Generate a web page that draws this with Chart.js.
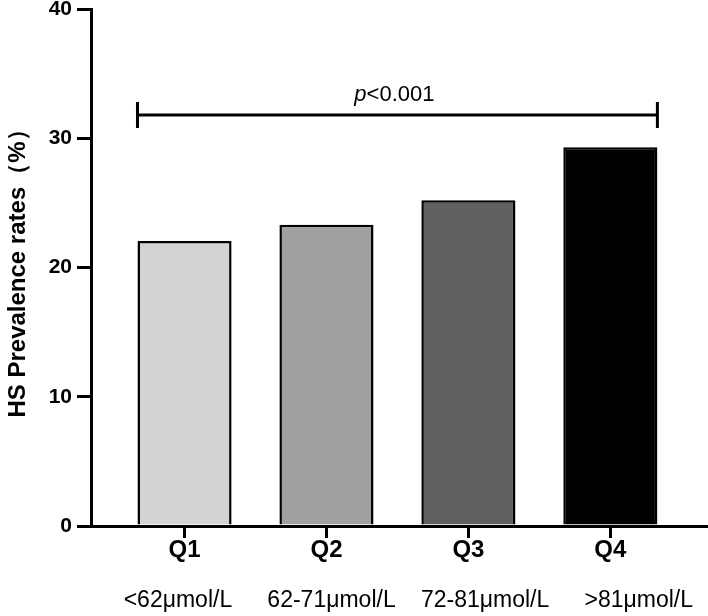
<!DOCTYPE html>
<html>
<head>
<meta charset="utf-8">
<script src="https://cdn.jsdelivr.net/npm/chart.js@4.4.1/dist/chart.umd.min.js"></script>
<style>
  html, body { margin: 0; padding: 0; background: #ffffff; }
  #wrap { width: 708px; height: 616px; position: relative; }
</style>
</head>
<body>
<div id="wrap"><canvas id="c" width="708" height="616"></canvas></div>
<script>
// ---- data ----
const quartiles = ["Q1", "Q2", "Q3", "Q4"];
const ranges = ["<62μmol/L", "62-71μmol/L", "72-81μmol/L", ">81μmol/L"];
const prevalence = [22.05, 23.3, 25.2, 29.3];
const barColors = ["#d3d3d3", "#a0a0a0", "#616161", "#000000"];
const yTicks = [0, 10, 20, 30, 40];
const pText = "<0.001";
const bracketValue = 31.8;

const FONT = "'Liberation Sans', Arial, Helvetica, sans-serif";
const X_MIN = -0.659, X_MAX = 3.688;
// range-label row is spread slightly wider than the bars
const X2_MIN = -0.566, X2_MAX = 3.451;

const fixedTicks = (scale) => { scale.ticks = quartiles.map((_, i) => ({ value: i })); };

const bracketPlugin = {
  id: 'bracket',
  afterDatasetsDraw(chart) {
    const meta = chart.getDatasetMeta(0);
    const first = meta.data[0], last = meta.data[meta.data.length - 1];
    const x1 = first.x - first.width / 2;
    const x2 = last.x + last.width / 2;
    const y = chart.scales.y.getPixelForValue(bracketValue);
    const ctx = chart.ctx;
    ctx.save();
    ctx.strokeStyle = '#000';
    ctx.lineWidth = 3;
    ctx.beginPath();
    ctx.moveTo(x1, y); ctx.lineTo(x2, y);
    ctx.moveTo(x1, y - 13); ctx.lineTo(x1, y + 13);
    ctx.moveTo(x2, y - 13); ctx.lineTo(x2, y + 13);
    ctx.stroke();
    // p-value text: italic "p" + regular rest
    const size = 22;
    ctx.fillStyle = '#000';
    ctx.textBaseline = 'alphabetic';
    ctx.font = `italic ${size}px ${FONT}`;
    const wp = ctx.measureText('p').width;
    ctx.font = `${size}px ${FONT}`;
    const wr = ctx.measureText(pText).width;
    const cx = (x1 + x2) / 2 - 3;
    let sx = cx - (wp + wr) / 2;
    const by = y - 13.5;
    ctx.font = `italic ${size}px ${FONT}`;
    ctx.fillText('p', sx, by);
    ctx.font = `${size}px ${FONT}`;
    ctx.fillText(pText, sx + wp, by);
    ctx.restore();
  }
};

new Chart(document.getElementById('c'), {
  type: 'bar',
  data: {
    datasets: [{
      data: prevalence.map((v, i) => ({ x: i, y: v })),
      backgroundColor: barColors,
      borderColor: '#000',
      borderWidth: 2.5,
      barPercentage: 0.663,
      categoryPercentage: 1.0,
      xAxisID: 'x',
      yAxisID: 'y'
    }]
  },
  options: {
    responsive: false,
    animation: false,
    devicePixelRatio: 1,
    layout: { padding: { top: 9, left: 0, right: 0, bottom: 0 } },
    plugins: { legend: { display: false }, tooltip: { enabled: false } },
    scales: {
      x: {
        type: 'linear',
        position: 'bottom',
        offset: false,
        min: X_MIN, max: X_MAX,
        afterBuildTicks: fixedTicks,
        afterFit: (s) => { s.height = 40; s.paddingLeft = 0; s.paddingRight = 0; },
        grid: { offset: false, drawOnChartArea: false, color: '#000', lineWidth: 3, tickLength: 12 },
        border: { display: true, color: '#000', width: 3 },
        ticks: {
          padding: -2,
          color: '#000',
          maxRotation: 0,
          autoSkip: false,
          font: { family: FONT, size: 24, weight: 'bold' },
          callback: (v) => quartiles[v]
        }
      },
      x2: {
        type: 'linear',
        position: 'bottom',
        offset: false,
        min: X2_MIN, max: X2_MAX,
        afterBuildTicks: fixedTicks,
        afterFit: (s) => { s.height = 50; s.paddingLeft = 0; s.paddingRight = 0; },
        grid: { offset: false, display: false, drawTicks: false, drawOnChartArea: false },
        border: { display: false },
        ticks: {
          padding: 21,
          color: '#000',
          maxRotation: 0,
          autoSkip: false,
          font: { family: FONT, size: 23 },
          callback: (v) => ranges[v]
        }
      },
      y: {
        type: 'linear',
        position: 'left',
        min: 0, max: 40,
        afterBuildTicks: (s) => { s.ticks = yTicks.map(v => ({ value: v })); },
        afterFit: (s) => { s.width = 91; s.paddingTop = 0; s.paddingBottom = 0; },
        grid: { drawOnChartArea: false, color: '#000', lineWidth: 3, tickLength: 14 },
        border: { display: true, color: '#000', width: 3 },
        ticks: {
          padding: 5,
          color: '#000',
          font: { family: FONT, size: 21, weight: 'bold' }
        },
        title: {
          display: true,
          text: 'HS Prevalence rates（%）',
          color: '#000',
          font: { family: FONT, size: 24, weight: 'bold' },
          padding: { top: 4, bottom: 0 }
        }
      }
    }
  },
  plugins: [bracketPlugin]
});
</script>
</body>
</html>
